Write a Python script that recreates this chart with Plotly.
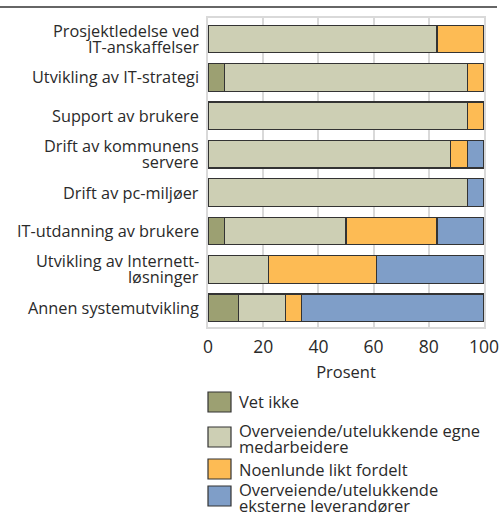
import plotly.graph_objects as go

# kategorier, øverst først (linjeskift markert med <br>)
kategorier = [
    "Prosjektledelse ved<br>IT-anskaffelser",
    "Utvikling av IT-strategi",
    "Support av brukere",
    "Drift av kommunens<br>servere",
    "Drift av pc-miljøer",
    "IT-utdanning av brukere",
    "Utvikling av Internett-<br>løsninger",
    "Annen systemutvikling",
]

serier = [
    "Vet ikke",
    "Overveiende/utelukkende egne<br>medarbeidere",
    "Noenlunde likt fordelt",
    "Overveiende/utelukkende<br>eksterne leverandører",
]

vet_ikke = [0, 6, 0, 0, 0, 6, 0, 11]
egne = [83, 88, 94, 88, 94, 44, 22, 17]
likt = [17, 6, 6, 6, 0, 33, 39, 6]
eksterne = [0, 0, 0, 6, 6, 17, 39, 66]

farger = ["#9ca072", "#cdcfb4", "#fdbb54", "#7f9ec8"]
x_ticks = [0, 20, 40, 60, 80, 100]

FONT = "Open Sans"
TXT = "#2a2a2a"

fig = go.Figure()
for navn, verdier, farge in zip(serier, [vet_ikke, egne, likt, eksterne], farger):
    fig.add_trace(go.Bar(
        y=kategorier, x=verdier, name=navn, orientation="h",
        marker=dict(color=farge, line=dict(color="#333333", width=1.2)),
        width=0.72, showlegend=False,
    ))

# plotområde i piksler
L, R, T, B = 208, 484, 18, 327
def px(x):
    return (x - L) / (R - L)
def py(y):
    return (B - y) / (B - T)

shapes = [dict(type="line", xref="paper", yref="paper",
               x0=px(0), x1=px(497), y0=py(7), y1=py(7),
               line=dict(color="#333333", width=1.5))]
annotations = []

# kategoritekster, en linje per annotasjon for tett linjeavstand
for kat in kategorier:
    linjer = kat.split("<br>")
    n = len(linjer)
    for i, linje in enumerate(linjer):
        annotations.append(dict(xref="paper", yref="y", x=px(201), y=kat,
                                yshift=(n - 1) * 8 - i * 16,
                                text=linje, showarrow=False, xanchor="right",
                                yanchor="middle",
                                font=dict(family=FONT, size=16.3, color=TXT)))

# egen tegnforklaring
bokser_y = [392, 427, 459, 486]
for navn, farge, y0 in zip(serier, farger, bokser_y):
    shapes.append(dict(type="rect", xref="paper", yref="paper",
                       x0=px(208), x1=px(231), y0=py(y0), y1=py(y0 + 20),
                       fillcolor=farge, line=dict(color="#333333", width=1.2)))
    linjer = navn.split("<br>")
    n = len(linjer)
    for i, linje in enumerate(linjer):
        ymid = y0 + 10 + (1 if n > 1 else 0) - (n - 1) * 8 + i * 16
        annotations.append(dict(xref="paper", yref="paper", x=px(237), y=py(ymid),
                                text=linje, showarrow=False, xanchor="left",
                                yanchor="middle",
                                font=dict(family=FONT, size=16.5, color=TXT)))

fig.update_layout(
    barmode="stack",
    width=500, height=516,
    margin=dict(l=L, r=500 - R, t=T, b=516 - B),
    paper_bgcolor="white", plot_bgcolor="white",
    font=dict(family=FONT, size=15, color=TXT),
    bargap=0.28,
    shapes=shapes,
    annotations=annotations,
    xaxis=dict(range=[0, 100], tickvals=x_ticks, showgrid=True, gridcolor="#d9d9d9",
               gridwidth=2, zeroline=False, showline=True, linecolor="#d9d9d9",
               linewidth=2, mirror=True, ticks="", tickfont=dict(size=17.5),
               ticklabelstandoff=3, automargin=False,
               title=dict(text="Prosent", font=dict(size=16.5), standoff=9)),
    yaxis=dict(autorange="reversed", showgrid=False, showline=True, linecolor="#d9d9d9",
               linewidth=2, mirror=True, ticks="", showticklabels=False,
               automargin=False),
)

# fjern standardmargen i nettleseren så figuren starter i hjørnet
fig.write_html("out.html", config={"displayModeBar": False},
               post_script="document.body.style.margin='0';")
